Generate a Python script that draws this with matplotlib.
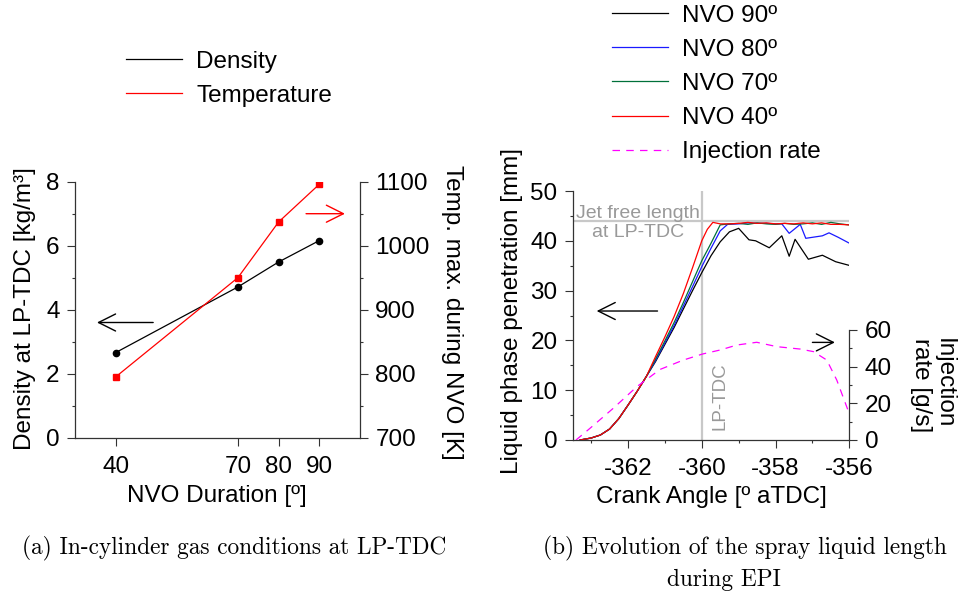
import matplotlib
matplotlib.use("Agg")
import matplotlib.pyplot as plt
from matplotlib.lines import Line2D
from matplotlib.ticker import MultipleLocator, FixedLocator

plt.rcParams['font.family'] = ['Liberation Sans', 'DejaVu Sans']
plt.rcParams['font.size'] = 17.5
plt.rcParams['axes.unicode_minus'] = False

# (a) gas conditions at LP-TDC
nvo = [40, 70, 80, 90]
density = [2.66, 4.71, 5.49, 6.16]
temp_max = [795, 950, 1037, 1096]

# (b) liquid length during EPI
ca_rise = [-363.3, -363.0, -362.75, -362.5, -362.25, -362.0, -361.75, -361.5,
           -361.25, -361.0, -360.75, -360.5, -360.25, -360.0]
rise_common = [0.0, 0.4, 1.0, 2.2, 4.3, 7.0, 9.8, 12.8]

ca_90 = ca_rise + [-359.75, -359.5, -359.25, -359.0, -358.72, -358.54, -358.17,
                   -357.83, -357.63, -357.47, -357.11, -356.73, -356.37, -356.02]
liq_90 = rise_common + [15.8, 19.2, 22.6, 26.3, 30.0, 33.6,
                        37.0, 39.8, 41.8, 42.5, 40.2, 40.0, 38.6,
                        41.0, 36.9, 40.3, 36.3, 37.1, 35.8, 35.1]

ca_80 = ca_rise + [-359.75, -359.5, -359.3, -359.0, -358.75, -358.5, -358.25,
                   -358.0, -357.83, -357.63, -357.33, -357.18, -356.73, -356.55,
                   -356.3, -356.02]
liq_80 = rise_common + [16.0, 19.5, 23.0, 26.9, 30.8, 34.8,
                        38.5, 42.0, 43.3, 43.4, 43.6, 43.5, 43.5,
                        43.4, 43.4, 41.5, 43.3, 40.5, 41.0, 41.6, 40.7, 39.6]

ca_70 = ca_rise + [-359.75, -359.5, -359.25, -359.0, -358.75, -358.5, -358.25,
                   -358.0, -357.75, -357.5, -357.25, -357.0, -356.75, -356.5,
                   -356.25, -356.02]
liq_70 = rise_common + [16.3, 19.9, 23.6, 27.6, 31.8, 36.0,
                        39.5, 43.2, 43.4, 43.5, 43.3, 43.6, 43.4,
                        43.3, 43.5, 43.3, 43.4, 43.6, 43.3, 43.7, 43.4, 43.2]

ca_40 = ca_rise + [-359.85, -359.7, -359.5, -359.25, -359.0, -358.75, -358.5,
                   -358.25, -358.0, -357.75, -357.5, -357.25, -357.0, -356.75,
                   -356.5, -356.25, -356.02]
liq_40 = rise_common + [16.8, 20.7, 24.8, 29.4, 34.6, 40.0,
                        42.3, 43.7, 43.4, 43.4, 43.5, 43.7, 43.5,
                        43.6, 43.4, 43.5, 43.4, 43.6, 43.4, 43.6, 43.3, 43.3, 43.2]

ca_inj = [-363.41, -363.03, -362.40, -361.76, -361.13, -360.5, -359.98, -359.5,
          -359.05, -358.51, -357.96, -357.33, -356.97, -356.61, -356.34, -356.02]
inj_rate = [0.0, 6.4, 17.3, 29.1, 38.5, 43.6, 46.9, 49.1,
            51.8, 53.3, 50.9, 49.6, 48.2, 43.6, 32.7, 15.4]

jet_free_length = 44.0
lp_tdc = -360.0

spine_col = '#333333'
grey_txt = '#999999'
grey_line = '#c8c8c8'


def style_ticks(ax):
    ax.tick_params(which='major', length=6, width=0.8, pad=5, color=spine_col)
    ax.tick_params(which='minor', length=2.5, width=0.8, color=spine_col)
    ax.tick_params(axis='x', which='major', pad=7)


fig = plt.figure(figsize=(9.64, 5.91), dpi=100)
W, H = 964.0, 591.0

# ---------------- panel (a) ----------------
ax1 = fig.add_axes([75 / W, 1 - 437.7 / H, 285 / W, 256 / H])
ax1b = ax1.twinx()

ax1.plot(nvo, density, color='black', lw=0.9, marker='o', ms=4.5)
ax1b.plot(nvo, temp_max, color='red', lw=0.9, marker='s', ms=5)

ax1.set_xlim(30, 100)
ax1.set_ylim(0, 8)
ax1b.set_ylim(700, 1100)
ax1.xaxis.set_major_locator(FixedLocator(nvo))
ax1.yaxis.set_major_locator(MultipleLocator(2))
ax1.yaxis.set_minor_locator(MultipleLocator(1))
ax1b.yaxis.set_major_locator(MultipleLocator(100))
ax1b.yaxis.set_minor_locator(MultipleLocator(50))

for a in (ax1, ax1b):
    a.spines['top'].set_visible(False)
    for s in a.spines.values():
        s.set_color(spine_col)
        s.set_linewidth(0.9)
    style_ticks(a)
ax1.spines['right'].set_visible(False)
ax1b.spines['left'].set_visible(False)
ax1b.spines['bottom'].set_visible(False)

ax1.set_xlabel('NVO Duration [º]', va='center')
ax1.xaxis.set_label_coords(0.497, -0.228)
ax1.set_ylabel('Density at LP-TDC [kg/m³]', va='center')
ax1.yaxis.set_label_coords(-0.175, 0.503)
ax1b.set_ylabel('Temp. max. during NVO [K]', rotation=270, va='center')
ax1b.yaxis.set_label_coords(1.323, 0.491)

arrow = dict(arrowstyle='->,head_length=0.7,head_width=0.35', lw=1.0,
             shrinkA=0, shrinkB=0)
ax1.annotate('', xy=(35.4, 3.6), xytext=(49.2, 3.6),
             arrowprops=dict(arrow, color='black'))
ax1b.annotate('', xy=(96.3, 1050), xytext=(86.75, 1050),
              arrowprops=dict(arrow, color='red'))

fig.legend(handles=[Line2D([], [], color='black', lw=0.9),
                    Line2D([], [], color='red', lw=0.9)],
           labels=['Density', 'Temperature'],
           loc='upper left', bbox_to_anchor=(125.7 / W, 1 - 50.5 / H),
           frameon=False, borderpad=0, borderaxespad=0,
           handlelength=2.3, handletextpad=0.6, labelspacing=0.5)

# ---------------- panel (b) ----------------
ax2 = fig.add_axes([572.7 / W, 1 - 440 / H, 276.6 / W, 249 / H])
ax2b = ax2.twinx()

ax2.axhline(jet_free_length, color=grey_line, lw=1.6, zorder=1)
ax2.axvline(lp_tdc, color=grey_line, lw=1.6, zorder=1)

l90, = ax2.plot(ca_90, liq_90, color='black', lw=0.9)
l80, = ax2.plot(ca_80, liq_80, color='#1a1aff', lw=0.9)
l70, = ax2.plot(ca_70, liq_70, color='#00703a', lw=0.9)
l40, = ax2.plot(ca_40, liq_40, color='#ff0000', lw=0.9)
linj, = ax2b.plot(ca_inj, inj_rate, color='#ff00ff', lw=0.9,
                  linestyle=(0, (6, 5)))

ax2.set_xlim(-363.5, -356)
ax2.set_ylim(0, 50)
ax2b.set_ylim(0, 60 * 249 / 110)
ax2.xaxis.set_major_locator(MultipleLocator(2))
ax2.xaxis.set_minor_locator(MultipleLocator(1))
ax2.yaxis.set_major_locator(MultipleLocator(10))
ax2.yaxis.set_minor_locator(MultipleLocator(5))
ax2b.yaxis.set_major_locator(FixedLocator([0, 20, 40, 60]))
ax2b.yaxis.set_minor_locator(FixedLocator([10, 30, 50]))

for a in (ax2, ax2b):
    a.spines['top'].set_visible(False)
    for s in a.spines.values():
        s.set_color(spine_col)
        s.set_linewidth(0.9)
    style_ticks(a)
ax2.spines['right'].set_visible(False)
ax2b.spines['left'].set_visible(False)
ax2b.spines['bottom'].set_visible(False)
ax2b.spines['right'].set_bounds(0, 60)

ax2.set_xlabel('Crank Angle [º aTDC]', va='center')
ax2.xaxis.set_label_coords(0.5026, -0.229)
ax2.set_ylabel('Liquid phase penetration [mm]', va='center')
ax2.yaxis.set_label_coords(-0.219, 0.518)
ax2b.set_ylabel('Injection\nrate [g/s]', rotation=270, va='center',
                ha='center', multialignment='left', linespacing=1.0)
ax2b.yaxis.set_label_coords(1.30, 0.221)

ax2.text(-361.74, 43.6, 'Jet free length\nat LP-TDC', color=grey_txt,
         fontsize=14, ha='center', va='center', linespacing=1.1)
ax2.text(-359.5, 8.7, 'LP-TDC', color=grey_txt, fontsize=13.5,
         rotation=90, ha='center', va='center')

ax2.annotate('', xy=(-362.85, 25.9), xytext=(-361.2, 25.9),
             arrowprops=dict(arrow, color='black'))
ax2.annotate('', xy=(-356.39, 19.6), xytext=(-357.0, 19.6),
             arrowprops=dict(arrow, color='black'))

fig.legend(handles=[l90, l80, l70, l40, linj],
           labels=['NVO 90º', 'NVO 80º', 'NVO 70º', 'NVO 40º', 'Injection rate'],
           loc='upper left', bbox_to_anchor=(611.7 / W, 1 - 4.5 / H),
           frameon=False, borderpad=0, borderaxespad=0,
           handlelength=2.3, handletextpad=0.6, labelspacing=0.5)

# captions
cap = dict(family='cmr10', fontsize=16.8, va='center', ha='center')
fig.text(234.5 / W, 1 - 548 / H, '(a) In-cylinder gas conditions at LP-TDC', **cap)
fig.text(744.5 / W, 1 - 548 / H, '(b) Evolution of the spray liquid length', **cap)
fig.text(723.7 / W, 1 - 580 / H, 'during EPI', **cap)

fig.savefig('out.png', dpi=100)
